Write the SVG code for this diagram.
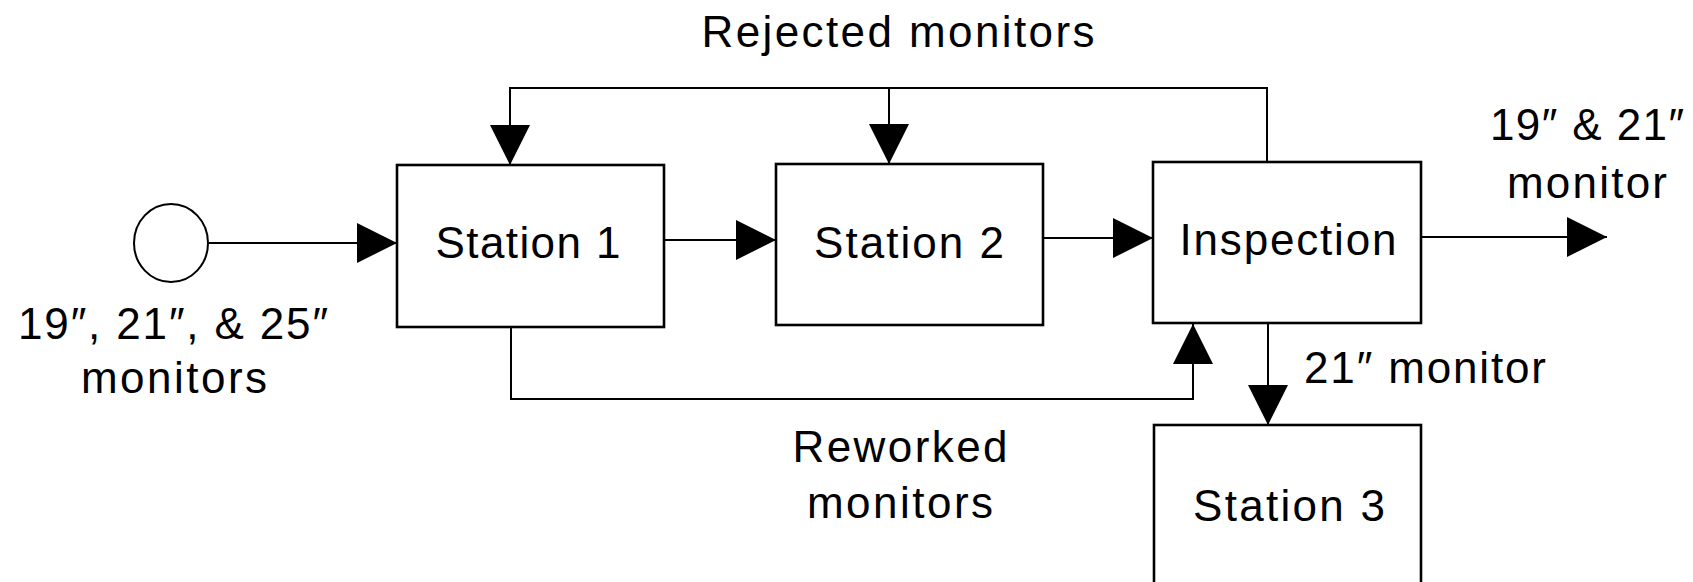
<svg xmlns="http://www.w3.org/2000/svg" width="1693" height="582" viewBox="0 0 1693 582">
<style>
  .box { fill: #fff; stroke: #000; stroke-width: 2.6; }
  .ln { fill: none; stroke: #000; stroke-width: 2; }
  .t { font-family: "Liberation Sans", "DejaVu Sans", Arial, sans-serif; font-size: 44px; fill: #000; }
  .c { text-anchor: middle; }
</style>
<defs>
  <marker id="ah" markerUnits="userSpaceOnUse" markerWidth="40" markerHeight="40" refX="40" refY="20" orient="auto" viewBox="0 0 40 40">
    <path d="M0,0 L40,20 L0,40 z" fill="#000"/>
  </marker>
</defs>
<rect width="1693" height="582" fill="#fff"/>

<g id="connectors">
  <line class="ln" x1="209" y1="243" x2="397" y2="243" marker-end="url(#ah)"/>
  <line class="ln" x1="664" y1="240" x2="776" y2="240" marker-end="url(#ah)"/>
  <line class="ln" x1="1043" y1="238" x2="1153" y2="238" marker-end="url(#ah)"/>
  <line class="ln" x1="1421" y1="237" x2="1607" y2="237" marker-end="url(#ah)"/>
  <polyline class="ln" points="1267,162 1267,88 510,88 510,165" marker-end="url(#ah)"/>
  <line class="ln" x1="889" y1="88" x2="889" y2="164" marker-end="url(#ah)"/>
  <polyline class="ln" points="511,327 511,399 1193,399 1193,324" marker-end="url(#ah)"/>
  <line class="ln" x1="1268" y1="323" x2="1268" y2="425" marker-end="url(#ah)"/>
</g>

<g id="source">
  <ellipse cx="171" cy="243" rx="37" ry="39" fill="#fff" stroke="#000" stroke-width="2"/>
  <text class="t c" x="173" y="339" textLength="310" lengthAdjust="spacing">19″, 21″, &amp; 25″</text>
  <text class="t c" x="174" y="393" textLength="186" lengthAdjust="spacing">monitors</text>
</g>

<g id="station1">
  <rect class="box" x="397" y="165" width="267" height="162"/>
  <text class="t c" x="528" y="258" textLength="185" lengthAdjust="spacing">Station 1</text>
</g>

<g id="station2">
  <rect class="box" x="776" y="164" width="267" height="161"/>
  <text class="t c" x="909" y="258" textLength="190" lengthAdjust="spacing">Station 2</text>
</g>

<g id="inspection">
  <rect class="box" x="1153" y="162" width="268" height="161"/>
  <text class="t c" x="1288" y="255" textLength="217" lengthAdjust="spacing">Inspection</text>
</g>

<g id="station3">
  <rect class="box" x="1154" y="425" width="267" height="180"/>
  <text class="t c" x="1289" y="521" textLength="192" lengthAdjust="spacing">Station 3</text>
</g>

<g id="labels">
  <text class="t c" x="898" y="47" textLength="393" lengthAdjust="spacing">Rejected monitors</text>
  <text class="t c" x="1587" y="140" textLength="194" lengthAdjust="spacing">19″ &amp; 21″</text>
  <text class="t c" x="1587" y="198" textLength="160" lengthAdjust="spacing">monitor</text>
  <text class="t" x="1304" y="383" textLength="242" lengthAdjust="spacing">21″ monitor</text>
  <text class="t c" x="900" y="462" textLength="215" lengthAdjust="spacing">Reworked</text>
  <text class="t c" x="900" y="518" textLength="186" lengthAdjust="spacing">monitors</text>
</g>
</svg>
